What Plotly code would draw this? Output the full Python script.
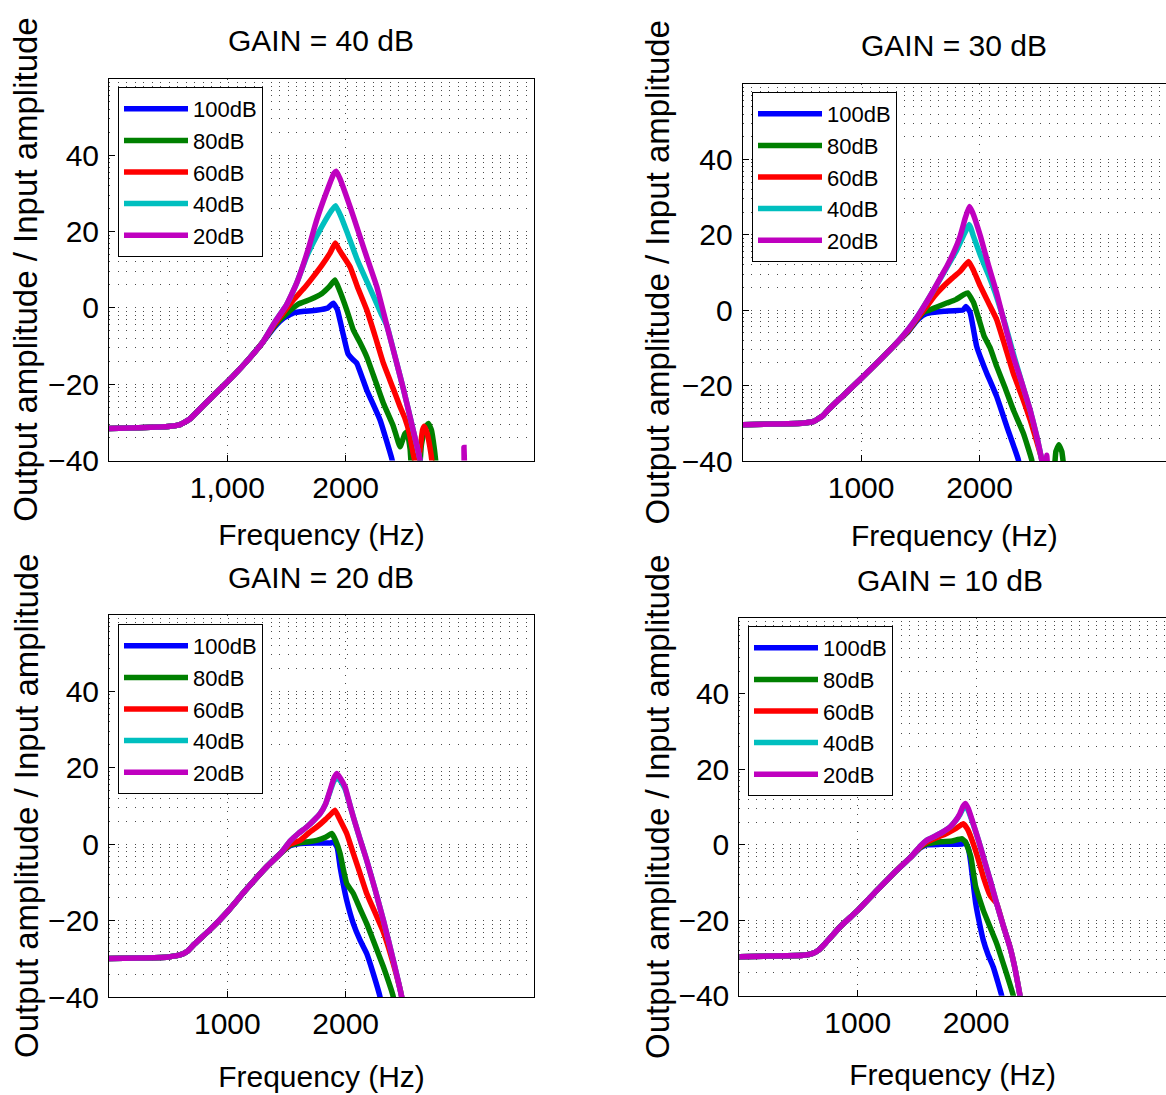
import math
import plotly.graph_objects as go

# ---------------- data ----------------
LEVELS = ["100dB", "80dB", "60dB", "40dB", "20dB"]
COLORS = ["#0000ff", "#008000", "#ff0000", "#00bfbf", "#bf00bf"]
TITLES = ["GAIN = 40 dB", "GAIN = 30 dB", "GAIN = 20 dB", "GAIN = 10 dB"]
X_TITLE = "Frequency (Hz)"
Y_TITLE = "Output amplitude / Input amplitude"
X_TICKVALS = [1000, 2000]
X_TICKTEXT_G40 = ["1,000", "2000"]
X_TICKTEXT = ["1000", "2000"]
Y_TICKVALS = [-40, -20, 0, 20, 40]

# GAIN = 40 dB  (shared low-frequency part, then per-level tails)
G40_BASE_F = [0, 250, 500, 600, 680, 800, 1000, 1150, 1300]
G40_BASE_Y = [-31.6, -31.4, -31.1, -30.6, -29.2, -25.5, -19.4, -14.5, -9.0]
G40_100_F = [1400, 1480, 1560, 1650, 1750, 1850, 1896, 1930, 1980, 2020, 2060, 2094, 2178, 2291, 2390, 2420]
G40_100_Y = [-5.0, -2.6, -1.3, -0.9, -0.6, 0.0, 1.2, -0.5, -7.0, -12.0, -13.5, -14.5, -21.5, -29.4, -39.5, -44]
G40_80_F = [1400, 1500, 1600, 1700, 1800, 1860, 1910, 1950, 2009, 2065, 2120, 2178, 2250, 2319, 2403, 2460, 2500, 2520, 2545, 2565, 2615, 2640, 2670, 2699, 2725, 2750, 2775]
G40_80_Y = [-4.6, -1.5, 1.0, 2.2, 3.8, 5.5, 7.3, 4.5, -0.5, -5.8, -9.0, -12.8, -19.0, -25.0, -31.0, -36.4, -33.0, -32.5, -37.0, -44, -44, -36.0, -31.5, -30.3, -32.0, -37.0, -44]
G40_60_F = [1400, 1480, 1558, 1650, 1727, 1800, 1870, 1913, 1950, 2037, 2100, 2178, 2250, 2319, 2400, 2460, 2502, 2540, 2570, 2600, 2625, 2650, 2665, 2690, 2720, 2745]
G40_60_Y = [-4.3, -1.0, 2.1, 5.2, 8.2, 11.2, 14.5, 17.0, 15.0, 10.8, 5.5, -0.5, -7.5, -14.5, -21.0, -25.9, -29.0, -33.0, -38.0, -42, -38.0, -32.0, -31.0, -33.0, -38.0, -44]
G40_40_F = [1400, 1500, 1586, 1671, 1750, 1820, 1880, 1915, 1960, 2010, 2100, 2200, 2300, 2350, 2432, 2490, 2544, 2590, 2630, 2660]
G40_40_Y = [-3.8, 0.8, 6.5, 13.5, 18.5, 22.5, 25.5, 26.8, 24.0, 20.0, 12.5, 5.5, -1.5, -4.8, -14.5, -21.5, -28.5, -34.5, -40.0, -45]
G40_20_F = [1400, 1500, 1586, 1680, 1755, 1840, 1900, 1920, 1950, 2065, 2160, 2263, 2350, 2432, 2490, 2544, 2590, 2630, 2660, 2995, 3000, 3005]
G40_20_Y = [-3.8, 0.8, 6.5, 15.0, 23.0, 30.5, 35.2, 35.8, 34.0, 24.0, 15.0, 5.6, -4.8, -14.5, -21.5, -28.5, -34.5, -40.0, -48, -48, -36.6, -48]

# GAIN = 30 dB
G30_BASE_F = [0, 250, 500, 600, 680, 720, 850, 1000, 1150, 1300]
G30_BASE_Y = [-30.4, -30.2, -30.0, -29.5, -27.9, -26.5, -22.6, -18.1, -13.5, -8.7]
G30_100_F = [1400, 1470, 1530, 1582, 1700, 1863, 1885, 1920, 1976, 2020, 2061, 2145, 2230, 2328, 2350]
G30_100_Y = [-5.6, -2.8, -1.2, -0.7, -0.3, 0.1, 1.0, -0.5, -9.6, -13.5, -16.7, -22.9, -30.8, -39.7, -44]
G30_80_F = [1400, 1470, 1530, 1582, 1650, 1723, 1800, 1860, 1900, 1950, 1996, 2039, 2090, 2145, 2215, 2285, 2370, 2441, 2460, 2620, 2645, 2670, 2695, 2720]
G30_80_Y = [-5.5, -2.5, -0.5, 0.1, 1.0, 1.9, 2.8, 4.0, 4.6, 2.0, -2.5, -6.9, -10.0, -14.9, -20.5, -26.4, -32.6, -39.7, -44, -44, -37.5, -35.7, -37.5, -44]
G30_60_F = [1400, 1470, 1554, 1620, 1694, 1770, 1836, 1907, 1950, 2008, 2075, 2145, 2215, 2285, 2360, 2427, 2480, 2525, 2545]
G30_60_Y = [-5.3, -2.4, 1.0, 3.8, 6.3, 8.5, 10.3, 12.9, 10.5, 6.3, 2.0, -2.5, -9.5, -16.7, -23.0, -29.0, -34.5, -39.5, -44]
G30_40_F = [1400, 1480, 1582, 1650, 1723, 1800, 1860, 1914, 1950, 2008, 2080, 2145, 2215, 2285, 2360, 2427, 2480, 2525, 2545]
G30_40_Y = [-5.0, -1.5, 3.7, 7.3, 11.3, 15.5, 19.5, 22.7, 19.5, 14.5, 9.0, 3.5, -3.5, -11.5, -19.5, -26.4, -33.0, -39.7, -44]
G30_20_F = [1400, 1480, 1582, 1650, 1723, 1780, 1836, 1880, 1914, 1940, 2008, 2075, 2145, 2215, 2285, 2360, 2427, 2480, 2525, 2545, 2558, 2568, 2578]
G30_20_Y = [-5.0, -1.5, 3.7, 7.5, 11.6, 15.2, 19.6, 24.5, 27.5, 26.0, 19.6, 12.0, 4.6, -4.0, -12.3, -19.5, -26.4, -33.0, -39.7, -44, -44, -38.5, -44]

# GAIN = 20 dB
G20_BASE_F = [0, 250, 500, 600, 660, 720, 850, 1000, 1150, 1333, 1450]
G20_BASE_Y = [-29.9, -29.8, -29.5, -29.0, -28.1, -26.2, -22.5, -17.7, -12.2, -5.9, -2.4]
G20_100_F = [1530, 1615, 1750, 1868, 1900, 1930, 1953, 1980, 2009, 2065, 2120, 2178, 2235, 2291, 2310]
G20_100_Y = [-0.4, 0.2, 0.3, 0.3, 0.6, -1.0, -5.9, -10.5, -14.7, -20.8, -25.0, -28.6, -34.0, -40.0, -44]
G20_80_F = [1530, 1615, 1700, 1756, 1830, 1882, 1915, 1953, 1980, 2009, 2065, 2120, 2178, 2250, 2319, 2403, 2420]
G20_80_Y = [-0.2, 0.4, 0.7, 1.0, 1.8, 2.8, 1.0, -2.4, -6.5, -10.3, -12.9, -16.8, -20.8, -26.5, -32.1, -40.0, -44]
G20_60_F = [1530, 1615, 1690, 1756, 1830, 1880, 1910, 1950, 2009, 2065, 2120, 2178, 2250, 2319, 2400, 2474, 2490]
G20_60_Y = [0.0, 1.0, 3.0, 4.5, 6.5, 8.0, 8.9, 6.5, 2.8, -2.4, -7.5, -12.9, -18.0, -23.0, -31.0, -40.0, -44]
G20_40_F = [1530, 1600, 1671, 1730, 1784, 1830, 1868, 1900, 1925, 1950, 1995, 2030, 2065, 2120, 2178, 2250, 2319, 2400, 2474, 2490]
G20_40_Y = [0.8, 2.8, 4.5, 6.2, 8.0, 10.5, 13.8, 16.5, 17.5, 16.8, 14.5, 11.0, 7.1, 1.5, -4.2, -12.0, -19.9, -30.0, -40.0, -44]
G20_20_F = [1530, 1600, 1671, 1730, 1784, 1830, 1868, 1900, 1925, 1950, 1995, 2030, 2065, 2120, 2178, 2250, 2319, 2400, 2474, 2490]
G20_20_Y = [0.8, 2.8, 4.5, 6.2, 8.0, 10.5, 14.1, 17.2, 18.5, 17.5, 15.0, 11.0, 7.1, 1.5, -4.2, -12.0, -19.9, -30.0, -40.0, -44]

# GAIN = 10 dB
G10_BASE_F = [0, 250, 541, 620, 667, 730, 850, 1000, 1150, 1329, 1450]
G10_BASE_Y = [-29.7, -29.5, -29.3, -28.8, -28.0, -26.0, -21.8, -17.4, -12.5, -6.8, -3.2]
G10_100_F = [1530, 1583, 1700, 1880, 1910, 1935, 1956, 1975, 1997, 2030, 2061, 2100, 2145, 2180, 2216, 2230]
G10_100_Y = [-0.8, 0.0, 0.1, 0.2, 0.5, -1.0, -5.0, -10.0, -15.6, -21.0, -25.3, -29.0, -32.4, -36.0, -40.0, -44]
G10_80_F = [1530, 1583, 1700, 1800, 1878, 1910, 1956, 1980, 1997, 2030, 2061, 2120, 2174, 2240, 2314, 2330]
G10_80_Y = [-0.7, 0.2, 0.8, 1.0, 1.6, 0.8, -3.2, -8.0, -11.2, -14.5, -17.4, -22.0, -26.2, -32.5, -40.0, -44]
G10_60_F = [1530, 1583, 1660, 1752, 1830, 1892, 1930, 1976, 2020, 2061, 2120, 2174, 2230, 2286, 2330, 2371, 2390]
G10_60_Y = [-0.5, 0.7, 1.8, 3.0, 4.3, 5.6, 4.0, 0.3, -4.0, -8.5, -13.5, -15.6, -21.5, -27.1, -33.0, -40.0, -44]
G10_40_F = [1530, 1583, 1667, 1730, 1780, 1830, 1864, 1890, 1912, 1935, 1976, 2020, 2061, 2120, 2174, 2230, 2286, 2330, 2371, 2390]
G10_40_Y = [-0.3, 1.2, 2.5, 3.6, 4.7, 6.5, 8.0, 9.6, 10.2, 9.0, 5.4, 1.2, -3.2, -9.5, -15.6, -21.5, -27.1, -33.0, -40.0, -44]
G10_20_F = [1530, 1583, 1667, 1730, 1780, 1830, 1864, 1890, 1912, 1935, 1976, 2020, 2061, 2120, 2174, 2230, 2286, 2330, 2371, 2390]
G10_20_Y = [-0.3, 1.2, 2.5, 3.6, 4.7, 6.5, 8.3, 10.2, 10.9, 9.5, 5.6, 1.2, -3.2, -9.5, -15.6, -21.5, -27.1, -33.0, -40.0, -44]

PANELS = [
    (G40_BASE_F, G40_BASE_Y, [(G40_100_F, G40_100_Y), (G40_80_F, G40_80_Y), (G40_60_F, G40_60_Y), (G40_40_F, G40_40_Y), (G40_20_F, G40_20_Y)]),
    (G30_BASE_F, G30_BASE_Y, [(G30_100_F, G30_100_Y), (G30_80_F, G30_80_Y), (G30_60_F, G30_60_Y), (G30_40_F, G30_40_Y), (G30_20_F, G30_20_Y)]),
    (G20_BASE_F, G20_BASE_Y, [(G20_100_F, G20_100_Y), (G20_80_F, G20_80_Y), (G20_60_F, G20_60_Y), (G20_40_F, G20_40_Y), (G20_20_F, G20_20_Y)]),
    (G10_BASE_F, G10_BASE_Y, [(G10_100_F, G10_100_Y), (G10_80_F, G10_80_Y), (G10_60_F, G10_60_Y), (G10_40_F, G10_40_Y), (G10_20_F, G10_20_Y)]),
]

# ---------------- layout geometry (pixels) ----------------
W, H = 1166, 1095
FONT = "Liberation Sans, Arial, Helvetica, sans-serif"

# (left, right, top, bottom) plot-area pixel boxes, x range max
BOXES = [
    (109, 534, 79, 460.5, 3592),
    (742.7, 1166, 84, 461, 3575),
    (109, 534, 615, 997, 3592),
    (739.3, 1166, 618.3, 995.7, 3604),
]
TITLE_POS = [(321, 40), (954, 46), (321, 577), (950, 580)]
LEGEND_POS = [(118, 87), (752, 92), (118, 624), (748, 626)]
YLABEL_X = [26, 657, 26, 657]
XTITLE_STANDOFF = [21, 21, 26, 26]


def fx(p):
    return p / W


def fy(p):
    return 1 - p / H


minor_y = []
for low in [-40, -20, 0, 20, 40]:
    for k in range(2, 10):
        minor_y.append(low + 20 * math.log10(k))

GRID_DASH = "1px,7.5px"
GRID_COLOR = "#4a4a4a"

fig = go.Figure()
layout = dict(
    width=W, height=H,
    margin=dict(l=0, r=0, t=0, b=0),
    paper_bgcolor="white", plot_bgcolor="white",
    font=dict(family=FONT, size=30, color="black"),
    showlegend=True,
    annotations=[],
)

for i, (base_f, base_y, tails) in enumerate(PANELS):
    sfx = "" if i == 0 else str(i + 1)
    xa, ya = "x" + sfx, "y" + sfx
    leg = "legend" + sfx
    for j, (tf, ty) in enumerate(tails):
        fig.add_trace(go.Scatter(
            x=base_f + tf, y=base_y + ty, mode="lines", name=LEVELS[j],
            line=dict(color=COLORS[j], width=5.5, shape="spline", smoothing=0.35),
            xaxis=xa, yaxis=ya, legend=leg, hoverinfo="skip",
        ))
    l, r, t, b, xmax = BOXES[i]
    layout["xaxis" + sfx] = dict(
        domain=[fx(l), min(fx(r), 1.0)], anchor=ya, range=[0, xmax],
        tickvals=X_TICKVALS, ticktext=X_TICKTEXT_G40 if i == 0 else X_TICKTEXT,
        tickfont=dict(size=30), ticks="inside", ticklen=6, tickcolor="black",
        ticklabelstandoff=0,
        showline=True, linecolor="black", linewidth=1, mirror=True,
        showgrid=True, gridcolor=GRID_COLOR, griddash=GRID_DASH, gridwidth=1,
        zeroline=False, automargin=False,
        title=dict(text=X_TITLE, font=dict(size=30), standoff=XTITLE_STANDOFF[i]),
    )
    layout["yaxis" + sfx] = dict(
        domain=[fy(b), fy(t)], anchor=xa, range=[-40, 60],
        tickvals=Y_TICKVALS, tickfont=dict(size=30),
        ticks="inside", ticklen=6, tickcolor="black", ticklabelstandoff=3,
        showline=True, linecolor="black", linewidth=1, mirror=True,
        showgrid=True, gridcolor=GRID_COLOR, griddash=GRID_DASH, gridwidth=1,
        minor=dict(tickvals=minor_y, showgrid=True, gridcolor=GRID_COLOR,
                   griddash=GRID_DASH, gridwidth=1, ticks=""),
        zeroline=False, automargin=False,
    )
    # y-axis title (rotated text)
    layout["annotations"].append(dict(
        text=Y_TITLE, x=fx(YLABEL_X[i]), y=fy((t + b) / 2), xref="paper", yref="paper",
        xanchor="center", yanchor="middle", showarrow=False, textangle=-90,
        font=dict(family=FONT, size=33, color="black"),
    ))
    lx, ly = LEGEND_POS[i]
    layout[leg] = dict(
        x=fx(lx), y=fy(ly), xanchor="left", yanchor="top",
        xref="paper", yref="paper",
        bgcolor="white", bordercolor="black", borderwidth=1,
        font=dict(family=FONT, size=22, color="black"),
        itemwidth=64, tracegroupgap=0, traceorder="normal",
    )
    tx, ty = TITLE_POS[i]
    layout["annotations"].append(dict(
        text=TITLES[i], x=fx(tx), y=fy(ty), xref="paper", yref="paper",
        xanchor="center", yanchor="middle", showarrow=False,
        font=dict(family=FONT, size=30, color="black"),
    ))

fig.update_layout(**layout)
fig.write_html("out.html")
